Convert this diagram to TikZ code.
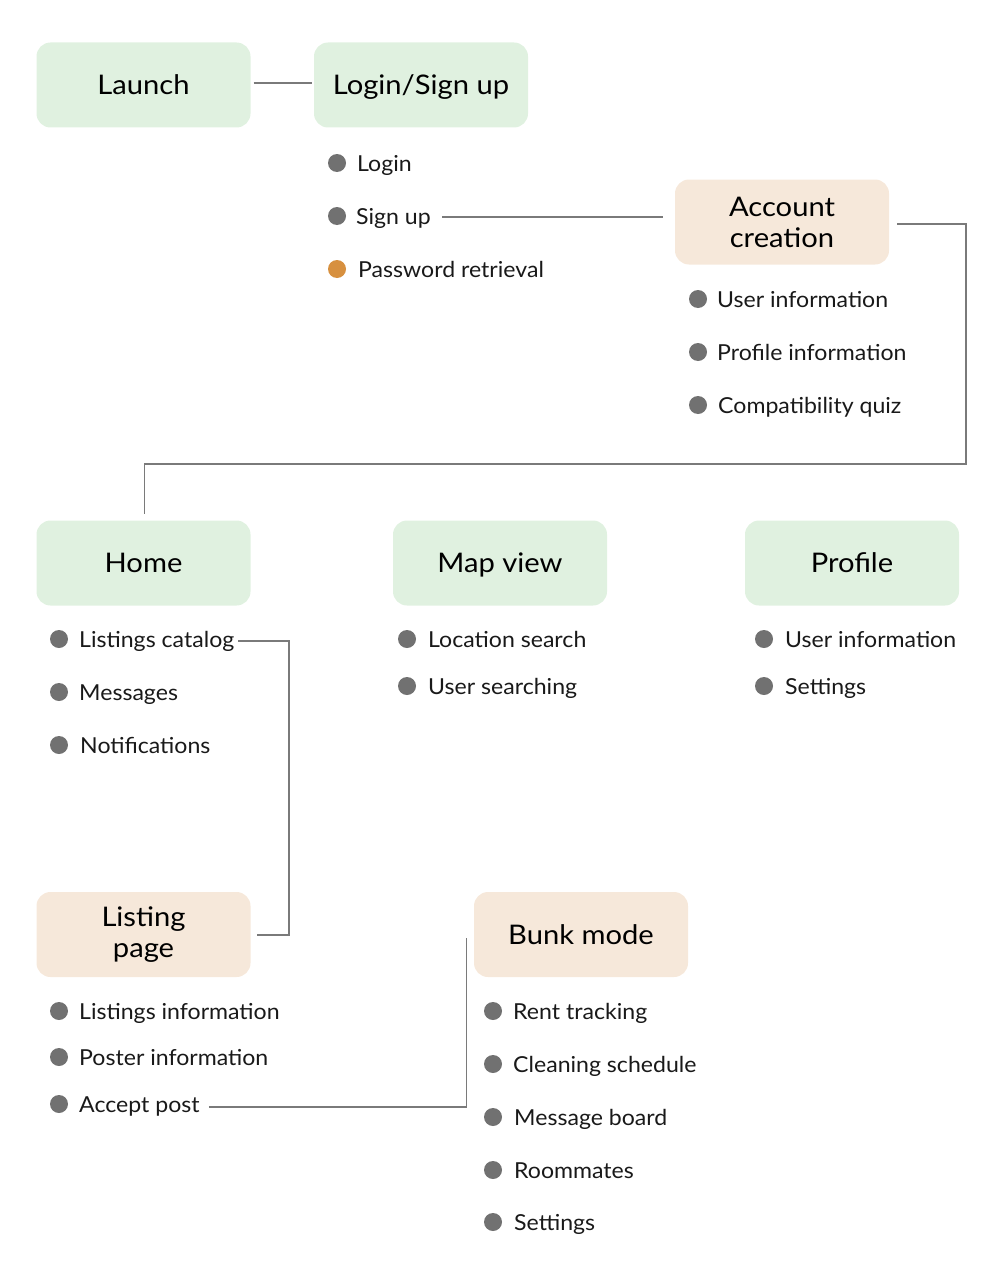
\documentclass[tikz,border=0pt]{standalone}
\usepackage{fontspec}
\setmainfont{Lato}
\newfontfamily\titlefont[FakeStretch=1.08]{Lato}
\newfontfamily\itemfont[FakeStretch=1.05]{Lato}
\usetikzlibrary{calc}
\definecolor{boxgreen}{HTML}{E0F1E0}
\definecolor{boxbeige}{HTML}{F6E8DA}
\definecolor{dotgray}{HTML}{717171}
\definecolor{dotorange}{HTML}{D7903F}
\definecolor{linegray}{HTML}{7A7A7A}
\begin{document}
\begin{tikzpicture}[x=1pt,y=-1pt,
  titlebox/.style={rounded corners=14pt, minimum width=214pt, minimum height=85pt, inner sep=0pt,
    align=center, font=\titlefont\fontsize{27}{31}\selectfont, text=black},
  oneline/.style={text height=28pt, text depth=9pt},
  greenbox/.style={titlebox, fill=boxgreen, oneline},
  beigebox/.style={titlebox, fill=boxbeige},
  item/.style={anchor=base west, inner sep=0pt, font=\itemfont\fontsize{22}{26}\selectfont, text=black!90},
  dot/.style={circle, fill=dotgray, minimum size=18pt, inner sep=0pt},
  odot/.style={circle, fill=dotorange, minimum size=18pt, inner sep=0pt},
  conn/.style={draw=linegray, line width=1.2pt}]
\useasboundingbox (0,0) rectangle (1001,1279);
% title boxes
\node[greenbox] (launch) at (143.5,85) {Launch};
\node[greenbox] (login) at (421,85) {Login/Sign up};
\node[beigebox] (account) at (782,222) {Account\\creation};
\node[greenbox] (home) at (143.5,563) {Home};
\node[greenbox] (map) at (500,563) {Map view};
\node[greenbox] (profile) at (852,563) {Profile};
\node[beigebox] (listing) at (143.5,934.5) {Listing\\page};
\node[beigebox, oneline] (bunk) at (581,934.5) {Bunk mode};
% login list
\node[dot] (d1) at (337,163) {}; \node[item] (i1) at (357,171.5) {Login};
\node[dot] (d2) at (337,216) {}; \node[item] (signup) at (356,224.5) {Sign up};
\node[odot] (d3) at (337,269) {}; \node[item] (i3) at (358,277.5) {Password retrieval};
% account list
\node[dot] (a1) at (698,299) {}; \node[item] (ai1) at (717,307.5) {User information};
\node[dot] (a2) at (698,352) {}; \node[item] (ai2) at (717,360.5) {Profile information};
\node[dot] (a3) at (698,405) {}; \node[item] (ai3) at (718,413.5) {Compatibility quiz};
% home list
\node[dot] (h1) at (59,639) {}; \node[item] (catalog) at (79,647.5) {Listings catalog};
\node[dot] (h2) at (59,692) {}; \node[item] (hi2) at (79,700.5) {Messages};
\node[dot] (h3) at (59,745) {}; \node[item] (hi3) at (80,753.5) {Notifications};
% map list
\node[dot] (m1) at (407,639) {}; \node[item] (mi1) at (428,647.5) {Location search};
\node[dot] (m2) at (407,686) {}; \node[item] (mi2) at (428,694.5) {User searching};
% profile list
\node[dot] (p1) at (764,639) {}; \node[item] (pi1) at (785,647.5) {User information};
\node[dot] (p2) at (764,686) {}; \node[item] (pi2) at (785,694.5) {Settings};
% listing list
\node[dot] (l1) at (59,1011) {}; \node[item] (li1) at (79,1019.5) {Listings information};
\node[dot] (l2) at (59,1057) {}; \node[item] (li2) at (79,1065.5) {Poster information};
\node[dot] (l3) at (59,1104) {}; \node[item] (accept) at (79,1112.5) {Accept post};
% bunk list
\node[dot] (b1) at (493,1011) {}; \node[item] (bi1) at (513,1019.5) {Rent tracking};
\node[dot] (b2) at (493,1064) {}; \node[item] (bi2) at (513,1072.5) {Cleaning schedule};
\node[dot] (b3) at (493,1117) {}; \node[item] (bi3) at (514,1125.5) {Message board};
\node[dot] (b4) at (493,1170) {}; \node[item] (bi4) at (514,1178.5) {Roommates};
\node[dot] (b5) at (493,1222) {}; \node[item] (bi5) at (514,1230.5) {Settings};
% connectors
\draw[conn] ($(launch.east)+(3,-2)$) -- ($(login.west)+(-2,-2)$);
\draw[conn] (d2 -| signup.east) ++(11,1) coordinate (s1) (s1) -- (s1 -| {$(account.west)+(-12,0)$});
\draw[conn] ($(account.east)+(8,2)$) -| (966,464) -| ($(home.north)+(1,-6)$);
\draw[conn] ($(h1 -| catalog.east)+(4,2)$) -| (289,935) -- ($(listing.east)+(6,0.5)$);
\draw[conn] ($(l3 -| accept.east)+(9,3)$) -| ($(bunk.west)+(-7,3.5)$);
\end{tikzpicture}
\end{document}
